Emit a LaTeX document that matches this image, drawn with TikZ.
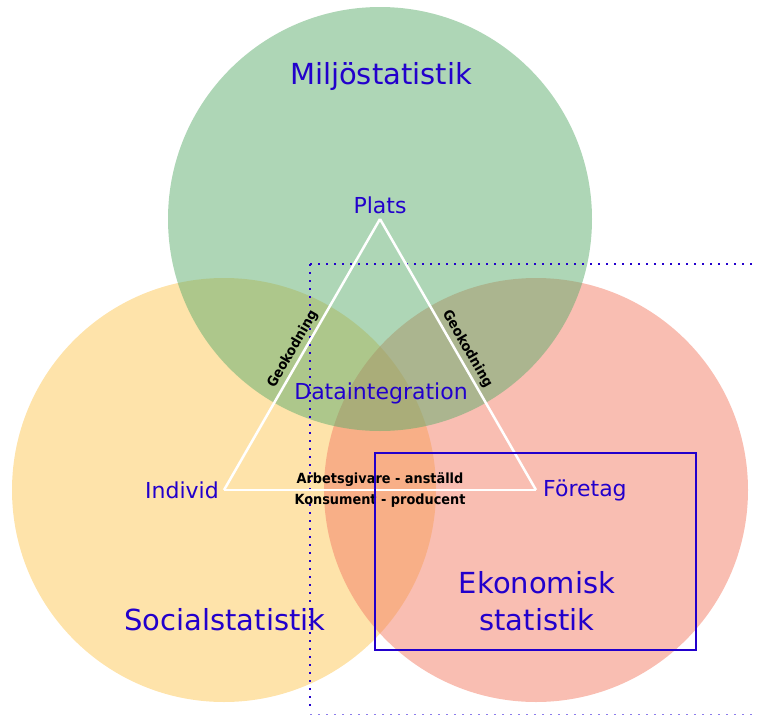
\documentclass[tikz,border=0pt]{standalone}
\usepackage{fontspec}
\setmainfont{DejaVu Sans}
\newfontfamily\linkfont[FakeStretch=0.92]{DejaVu Sans}
\definecolor{miljo}{RGB}{93,173,109}
\definecolor{social}{RGB}{253,199,85}
\definecolor{ekonomi}{RGB}{243,125,101}
\definecolor{rubrik}{RGB}{34,0,204}
\definecolor{ljusrubrik}{RGB}{140,125,235}
\begin{document}
\begin{tikzpicture}[
        x=1pt, y=-1pt,
        area/.style={fill opacity=0.5},
        corner/.style={text=rubrik, font=\fontsize{22}{26}\selectfont, inner sep=3pt},
        heading/.style={text=rubrik, font=\fontsize{29}{37}\selectfont, align=center},
        link/.style={text=black, font=\linkfont\bfseries\fontsize{14}{16}\selectfont, inner sep=2.5pt},
        edge/.style={white, line width=2.5pt},
        fence/.style={rubrik, line width=2pt, dash pattern=on 2pt off 6pt}
    ]
    \useasboundingbox (0,0) rectangle (758,715);
    \coordinate (plats) at (380,219);
    \coordinate (individ) at (224,490);
    \coordinate (foretag) at (536,490);

    \fill[area, social] (individ) circle[radius=212pt];
    \fill[area, ekonomi] (foretag) circle[radius=212pt];
    \fill[area, miljo] (plats) circle[radius=212pt];

    \draw[fence] (310,264) -- (310,710);
    \draw[fence] (310,264) -- (758,264);
    \draw[fence, ljusrubrik, line width=1.5pt] (310,714.5) -- (758,714.5);

    \draw[edge] (individ) -- node[link, sloped, above] {Geokodning} (plats);
    \draw[edge] (plats) -- node[link, sloped, above] {Geokodning} (foretag);
    \draw[edge] (individ) --
        node[link, above] (arbete) {Arbetsgivare - anställd}
        node[link, below] (handel) {Konsument - producent} (foretag);

    \node[corner, above, inner sep=5pt] (platsnamn) at (plats) {Plats};
    \node[corner, left, inner sep=5pt] (individnamn) at (individ) {Individ};
    \node[corner, right, inner sep=7pt] (foretagnamn) at (foretag) {Företag};
    \node[corner] (integration) at (381,393) {Dataintegration};

    \node[heading] (miljo) at (381,76) {Miljöstatistik};
    \node[heading] (social) at (225,620) {Socialstatistik};
    \node[heading] (ekonomi) at (537,601) {Ekonomisk\\statistik};

    \draw[rubrik, line width=2.5pt] (375,453) rectangle (696,650);
\end{tikzpicture}
\end{document}
